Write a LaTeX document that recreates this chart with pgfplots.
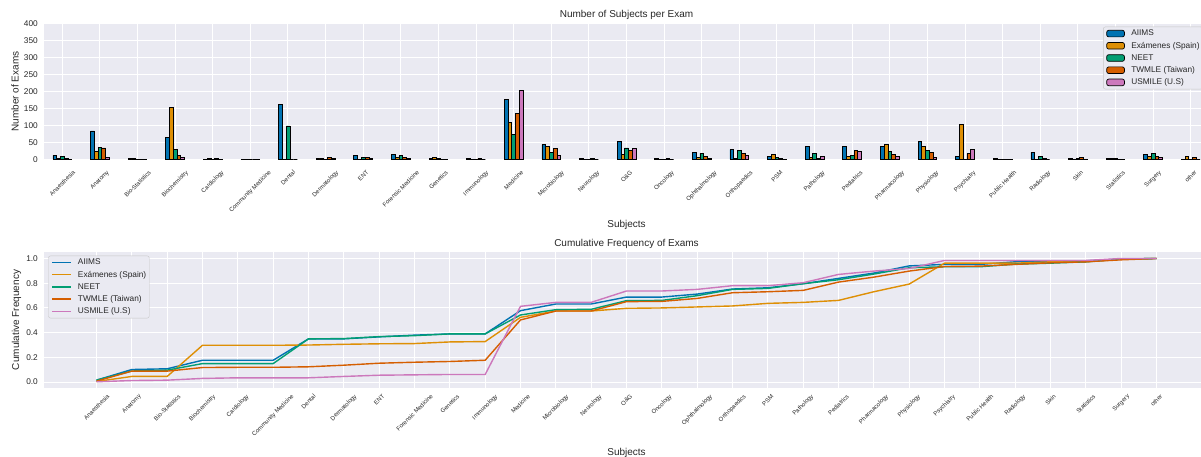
\documentclass[border=0pt]{standalone}
\usepackage{fontspec}
\setmainfont{Liberation Sans}
\usepackage{graphicx}
\usepackage{pgfplots}
\usepackage{pgfplotstable}
\pgfplotsset{compat=1.18}

\definecolor{cAI}{HTML}{0173B2}
\definecolor{cEX}{HTML}{DE8F05}
\definecolor{cNE}{HTML}{029E73}
\definecolor{cTW}{HTML}{D55E00}
\definecolor{cUS}{HTML}{CC78BC}
\definecolor{bgc}{HTML}{EAEAF2}
\definecolor{txt}{HTML}{262626}

\newcommand{\rl}[1]{\rotatebox{45}{#1}}

% exams per subject
\pgfplotstableread{
idx AIIMS EX NEET TW US
0 12 4 9 3 1
1 84 23 36 34 5
2 4 2 1 1 0
3 65 153 29 11 5
4 1 2 1 2 1
5 1 1 0 0 0
6 161 0 99 0 0
7 2 3 1 6 4
8 12 0 6 7 3
9 16 5 11 6 2
10 2 7 3 1 1
11 2 1 1 4 0
12 177 108 75 135 203
13 44 38 21 32 13
14 2 1 1 3 0
15 54 14 34 26 33
16 2 1 1 2 0
17 21 6 18 9 4
18 29 3 26 19 11
19 8 14 7 3 1
20 39 5 19 4 8
21 39 8 11 26 24
22 38 45 24 15 9
23 54 38 27 22 5
24 10 104 1 17 29
25 2 0 1 1 1
26 21 0 9 2 0
27 4 0 2 7 1
28 3 3 2 1 0
29 15 8 18 8 5
30 1 9 1 6 0
}\counts

% cumulative frequency
\pgfplotstableread{
idx AIIMS EX NEET TW US
0 0.016 0.005 0.016 0.008 0.003
1 0.102 0.046 0.090 0.089 0.013
2 0.108 0.046 0.097 0.089 0.016
3 0.177 0.298 0.150 0.118 0.030
4 0.177 0.298 0.150 0.120 0.035
5 0.177 0.298 0.150 0.120 0.035
6 0.350 0.300 0.350 0.124 0.035
7 0.350 0.306 0.352 0.137 0.046
8 0.366 0.310 0.368 0.153 0.056
9 0.380 0.312 0.376 0.161 0.059
10 0.390 0.325 0.390 0.167 0.062
11 0.390 0.328 0.390 0.177 0.062
12 0.578 0.524 0.543 0.503 0.613
13 0.632 0.575 0.586 0.575 0.645
14 0.632 0.575 0.589 0.575 0.645
15 0.688 0.597 0.659 0.651 0.737
16 0.688 0.600 0.661 0.653 0.737
17 0.712 0.608 0.699 0.677 0.750
18 0.753 0.616 0.750 0.723 0.780
19 0.763 0.637 0.758 0.731 0.780
20 0.796 0.645 0.796 0.742 0.804
21 0.839 0.661 0.828 0.809 0.871
22 0.882 0.731 0.874 0.849 0.898
23 0.940 0.793 0.925 0.898 0.919
24 0.952 0.962 0.933 0.935 0.984
25 0.952 0.962 0.933 0.938 0.984
26 0.973 0.962 0.954 0.952 0.984
27 0.978 0.973 0.962 0.965 0.984
28 0.981 0.973 0.973 0.973 0.984
29 0.995 0.995 0.995 0.989 1.000
30 1.000 1.000 1.000 1.000 1.000
}\cumul

\pgfplotsset{
  sns/.style={
    scale only axis,
    width=1166pt,
    axis background/.style={fill=bgc},
    axis line style={draw=none},
    grid=major,
    major grid style={white, line width=1pt},
    tick style={draw=none},
    xtick={0,...,30},
    xticklabels={\rl{Anaesthesia},\rl{Anatomy},\rl{Bio-Statistics},\rl{Biochemistry},\rl{Cardiology},\rl{Community Medicine},\rl{Dental},\rl{Dermatology},\rl{ENT},\rl{Forensic Medicine},\rl{Genetics},\rl{Immunology},\rl{Medicine},\rl{Microbiology},\rl{Neurology},\rl{O\&G},\rl{Oncology},\rl{Ophthalmology},\rl{Orthopaedics},\rl{PSM},\rl{Pathology},\rl{Pediatrics},\rl{Pharmacology},\rl{Physiology},\rl{Psychiatry},\rl{Public Health},\rl{Radiology},\rl{Skin},\rl{Statistics},\rl{Surgery},\rl{other}},
    xticklabel style={font=\fontsize{6}{7}\selectfont, text=txt, anchor=north, inner sep=0pt, yshift=-6pt},
    yticklabel style={font=\fontsize{8.3}{10}\selectfont, text=txt, anchor=east, inner sep=0pt, xshift=-5.5pt},
    /pgf/number format/assume math mode=true,
    title style={font=\fontsize{10}{12}\selectfont, text=txt, at={(0.5,1)}, anchor=south, inner sep=0pt, yshift=-2.4pt},
    label style={font=\fontsize{10}{12}\selectfont, text=txt},
    xlabel style={at={(axis description cs:0.5,-0.482)}, anchor=center, inner sep=0pt},
    ylabel style={anchor=center, inner sep=0pt},
    xlabel={Subjects},
    legend cell align=left,
    legend style={font=\fontsize{8.3}{10}\selectfont, text=txt, draw=black!22, fill=bgc,
      rounded corners=2pt, inner xsep=3pt, inner ysep=2.8pt, row sep=4.4pt,
      nodes={inner sep=0pt, text height=6.2pt, text depth=1.6pt},
      /tikz/every odd column/.append style={column sep=6.5pt}},
  },
}

\begin{document}
\begin{tikzpicture}
\path[use as bounding box] (0pt,0pt) rectangle (1201pt,457pt);
\clip (0pt,0pt) rectangle (1201pt,457pt);

\begin{axis}[sns,
  at={(43.5pt,297.5pt)}, anchor=south west,
  height=135.8pt,
  xmin=-0.5, xmax=30.5,
  ymin=0, ymax=400,
  ytick={0,50,...,400},
  title={Number of Subjects per Exam},
  ylabel={Number of Exams},
  ylabel style={at={(axis description cs:-0.0244,0.5)}},
  ybar, bar width=0.1,
  legend style={at={(rel axis cs:0.9088,0.978)}, anchor=north west},
  legend image code/.code={\draw[#1] (0pt,-3.3pt) rectangle (17.7pt,3.3pt);},
]
\addplot[fill=cAI, draw=black, line width=0.7pt, bar shift=-0.2] table[x=idx, y=AIIMS] {\counts};
\addlegendentry{AIIMS}
\addplot[fill=cEX, draw=black, line width=0.7pt, bar shift=-0.1] table[x=idx, y=EX] {\counts};
\addlegendentry{Exámenes (Spain)}
\addplot[fill=cNE, draw=black, line width=0.7pt, bar shift=0] table[x=idx, y=NEET] {\counts};
\addlegendentry{NEET}
\addplot[fill=cTW, draw=black, line width=0.7pt, bar shift=0.1] table[x=idx, y=TW] {\counts};
\addlegendentry{TWMLE (Taiwan)}
\addplot[fill=cUS, draw=black, line width=0.7pt, bar shift=0.2] table[x=idx, y=US] {\counts};
\addlegendentry{USMILE (U.S)}
\end{axis}

\begin{axis}[sns,
  at={(43.5pt,69.3pt)}, anchor=south west,
  height=135.4pt,
  xmin=-1.5, xmax=31.5,
  ymin=-0.045, ymax=1.05,
  ytick={0,0.2,0.4,0.6,0.8,1},
  yticklabel style={/pgf/number format/fixed, /pgf/number format/fixed zerofill, /pgf/number format/precision=1},
  title={Cumulative Frequency of Exams},
  ylabel={Cumulative Frequency},
  ylabel style={at={(axis description cs:-0.0232,0.5)}},
  legend style={at={(rel axis cs:0.0041,0.975)}, anchor=north west},
  legend image code/.code={\draw[#1] (0pt,0pt) -- (18.6pt,0pt);},
]
\addplot[cAI, line width=1.4pt] table[x=idx, y=AIIMS] {\cumul};
\addlegendentry{AIIMS}
\addplot[cEX, line width=1.4pt] table[x=idx, y=EX] {\cumul};
\addlegendentry{Exámenes (Spain)}
\addplot[cNE, line width=1.4pt] table[x=idx, y=NEET] {\cumul};
\addlegendentry{NEET}
\addplot[cTW, line width=1.4pt] table[x=idx, y=TW] {\cumul};
\addlegendentry{TWMLE (Taiwan)}
\addplot[cUS, line width=1.4pt] table[x=idx, y=US] {\cumul};
\addlegendentry{USMILE (U.S)}
\end{axis}
\end{tikzpicture}
\end{document}
